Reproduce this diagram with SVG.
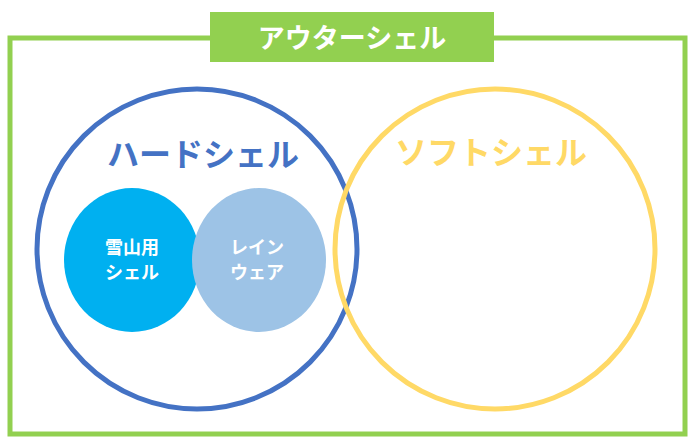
<svg xmlns="http://www.w3.org/2000/svg" width="695" height="446" viewBox="0 0 695 446">
<style>
text{font-family:"Noto Sans CJK JP","Noto Sans",sans-serif;font-weight:bold;text-anchor:middle;dominant-baseline:central}
.w{fill:#fff}
</style>
<rect width="695" height="446" fill="#fff"/>
<g id="outer">
<rect x="10" y="38" width="675" height="396" fill="none" stroke="#92D050" stroke-width="5"/>
<rect x="210" y="12" width="284" height="50" fill="#92D050"/>
<text x="352" y="36" class="w" font-size="27">アウターシェル</text>
</g>
<g id="hard">
<circle cx="197" cy="249" r="160" fill="none" stroke="#4472C4" stroke-width="5"/>
<text x="203" y="152" font-size="32" fill="#4472C4">ハードシェル</text>
</g>
<g id="soft">
<circle cx="495" cy="249" r="160" fill="none" stroke="#FFD966" stroke-width="5"/>
<text x="491" y="150" font-size="32" fill="#FFD966">ソフトシェル</text>
</g>
<g id="snow">
<ellipse cx="132" cy="260" rx="68" ry="72" fill="#00B0F0"/>
<text x="132" y="246" class="w" font-size="18">雪山用</text>
<text x="132" y="271" class="w" font-size="18">シェル</text>
</g>
<g id="rain">
<ellipse cx="259" cy="260" rx="67" ry="72" fill="#9DC3E6"/>
<text x="257" y="246" class="w" font-size="18">レイン</text>
<text x="257" y="271" class="w" font-size="18">ウェア</text>
</g>
<g id="connectors"/>
</svg>
